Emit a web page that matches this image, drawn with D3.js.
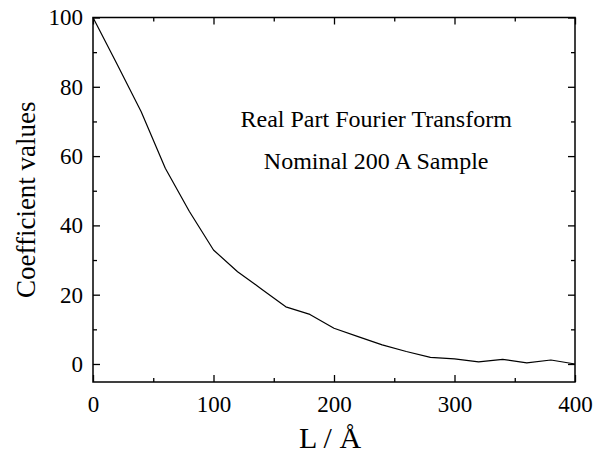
<!DOCTYPE html>
<html>
<head>
<meta charset="utf-8">
<script src="https://cdn.jsdelivr.net/npm/d3@7"></script>
<style>
  body { margin: 0; background: #fff; }
  text { font-family: "Liberation Serif", "Times New Roman", serif; fill: #000; }
</style>
</head>
<body>
<div id="chart"></div>
<script>
// data (step of 20 Å)
const lengths = [0, 20, 40, 60, 80, 100, 120, 140, 160, 180, 200, 220, 240, 260, 280, 300, 320, 340, 360, 380, 400];
const coeffs = [100, 86.5, 72.8, 56.5, 44, 32.9, 26.6, 21.6, 16.5, 14.3, 10.3, 7.9, 5.5, 3.6, 1.9, 1.5, 0.6, 1.35, 0.3, 1.15, 0];
const xTicks = [0, 100, 200, 300, 400];
const yTicks = [0, 20, 40, 60, 80, 100];
const notes = ["Real Part Fourier Transform", "Nominal 200 A Sample"];

const W = 595, H = 453;
const margin = { top: 17.5, right: 20, bottom: 71, left: 93 };
const width = W - margin.left - margin.right,
    height = H - margin.top - margin.bottom;

const svg = d3.select("#chart").append("svg")
    .attr("width", W)
    .attr("height", H);

const g = svg.append("g")
    .attr("transform", "translate(" + margin.left + "," + margin.top + ")");

const x = d3.scaleLinear().domain([0, 400]).range([0, width]);
const y = d3.scaleLinear().domain([-5.2, 100]).range([height, 0]);

// inward ticks on all four sides, minor ones without labels
function addAxis(axis, scale, majors, minorStep, transform, labels, pad) {
    const minors = d3.range(scale.domain()[0] < 0 ? 0 : scale.domain()[0], scale.domain()[1] + 0.1, minorStep)
        .filter(v => majors.indexOf(v) < 0);
    const a = g.append("g").attr("transform", transform);
    a.call(axis(scale).tickValues(majors).tickSizeInner(-7).tickSizeOuter(0).tickPadding(pad || 0)
        .tickFormat(labels ? d3.format("d") : ""));
    a.append("g").call(axis(scale).tickValues(minors).tickSizeInner(-4).tickSizeOuter(0).tickFormat(""))
        .select(".domain").remove();
    a.selectAll(".domain").remove();
    a.selectAll("line").attr("stroke", "#000").attr("stroke-width", 1.3);
    a.selectAll("text").attr("font-size", 23).attr("font-family", "Liberation Serif");
    return a;
}

addAxis(d3.axisBottom, x, xTicks, 50, "translate(0," + height + ")", true, 13.5);
addAxis(d3.axisTop, x, xTicks, 50, "translate(0,0)", false);
addAxis(d3.axisLeft, y, yTicks, 10, "translate(0,0)", true, 10);
addAxis(d3.axisRight, y, yTicks, 10, "translate(" + width + ",0)", false);

// frame
g.append("rect")
    .attr("width", width)
    .attr("height", height)
    .attr("fill", "none")
    .attr("stroke", "#000")
    .attr("stroke-width", 1.5);

const line = d3.line()
    .x((d, i) => x(lengths[i]))
    .y(d => y(d));

g.append("path")
    .datum(coeffs)
    .attr("fill", "none")
    .attr("stroke", "#000")
    .attr("stroke-width", 1.2)
    .attr("stroke-linejoin", "round")
    .attr("d", line);

// annotations
g.selectAll(".note")
    .data(notes)
    .join("text")
    .attr("class", "note")
    .attr("x", x(235))
    .attr("y", (d, i) => 109 + i * 42.5)
    .attr("text-anchor", "middle")
    .attr("font-size", 24)
    .text(d => d);

// axis titles
svg.append("text")
    .attr("x", margin.left + width / 2 - 4)
    .attr("y", 448)
    .attr("text-anchor", "middle")
    .attr("font-size", 30)
    .text("L / Å");

svg.append("text")
    .attr("transform", "translate(35," + (margin.top + height / 2) + ") rotate(-90)")
    .attr("text-anchor", "middle")
    .attr("font-size", 27)
    .text("Coefficient values");
</script>
</body>
</html>
